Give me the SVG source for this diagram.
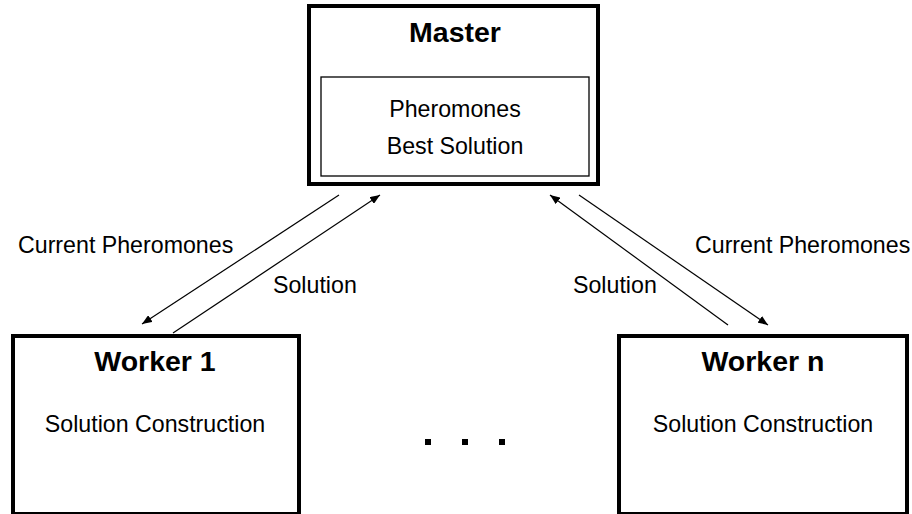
<svg xmlns="http://www.w3.org/2000/svg" width="912" height="514" viewBox="0 0 912 514">
  <style>
    .box { fill: #ffffff; stroke: #000000; stroke-width: 4; }
    .inner { fill: #ffffff; stroke: #000000; stroke-width: 1.3; }
    .title { font-family: "Liberation Sans", Arial, sans-serif; font-weight: bold; font-size: 28.5px; fill: #000; text-anchor: middle; }
    .txt { font-family: "Liberation Sans", Arial, sans-serif; font-size: 23.2px; fill: #000; text-anchor: middle; }
    .lbl { font-family: "Liberation Sans", Arial, sans-serif; font-size: 23.2px; fill: #000; }
    .edge { stroke: #000000; stroke-width: 1.2; fill: none; marker-end: url(#arrow); }
  </style>
  <defs>
    <marker id="arrow" viewBox="0 0 10 8" refX="10" refY="4" markerWidth="10" markerHeight="8" markerUnits="userSpaceOnUse" orient="auto">
      <path d="M0,0 L10,4 L0,8 Z" fill="#000000"/>
    </marker>
  </defs>
  <rect width="912" height="514" fill="#ffffff"/>

  <g id="master">
    <rect class="box" x="309" y="6" width="289" height="178"/>
    <rect class="inner" x="321" y="77" width="268" height="99"/>
    <text class="title" x="455" y="42">Master</text>
    <text class="txt" x="455" y="117">Pheromones</text>
    <text class="txt" x="455" y="154">Best Solution</text>
  </g>

  <g id="worker1">
    <rect class="box" x="13" y="336" width="286" height="178"/>
    <text class="title" x="155" y="371">Worker 1</text>
    <text class="txt" x="155" y="432">Solution Construction</text>
  </g>

  <g id="workern">
    <rect class="box" x="619" y="336" width="288" height="178"/>
    <text class="title" x="763" y="371">Worker n</text>
    <text class="txt" x="763" y="432">Solution Construction</text>
  </g>

  <g id="ellipsis" fill="#000000">
    <rect x="425" y="439" width="6" height="6"/>
    <rect x="462" y="439" width="6" height="6"/>
    <rect x="499" y="439" width="6" height="6"/>
  </g>

  <g id="connectors">
    <line class="edge" x1="339" y1="195" x2="142" y2="324"/>
    <line class="edge" x1="173" y1="333" x2="380" y2="195"/>
    <line class="edge" x1="728" y1="325" x2="550" y2="195"/>
    <line class="edge" x1="579" y1="195" x2="768" y2="325"/>
    <text class="lbl" x="18" y="253">Current Pheromones</text>
    <text class="lbl" x="273" y="293">Solution</text>
    <text class="lbl" x="695" y="253">Current Pheromones</text>
    <text class="lbl" x="573" y="293">Solution</text>
  </g>
</svg>
